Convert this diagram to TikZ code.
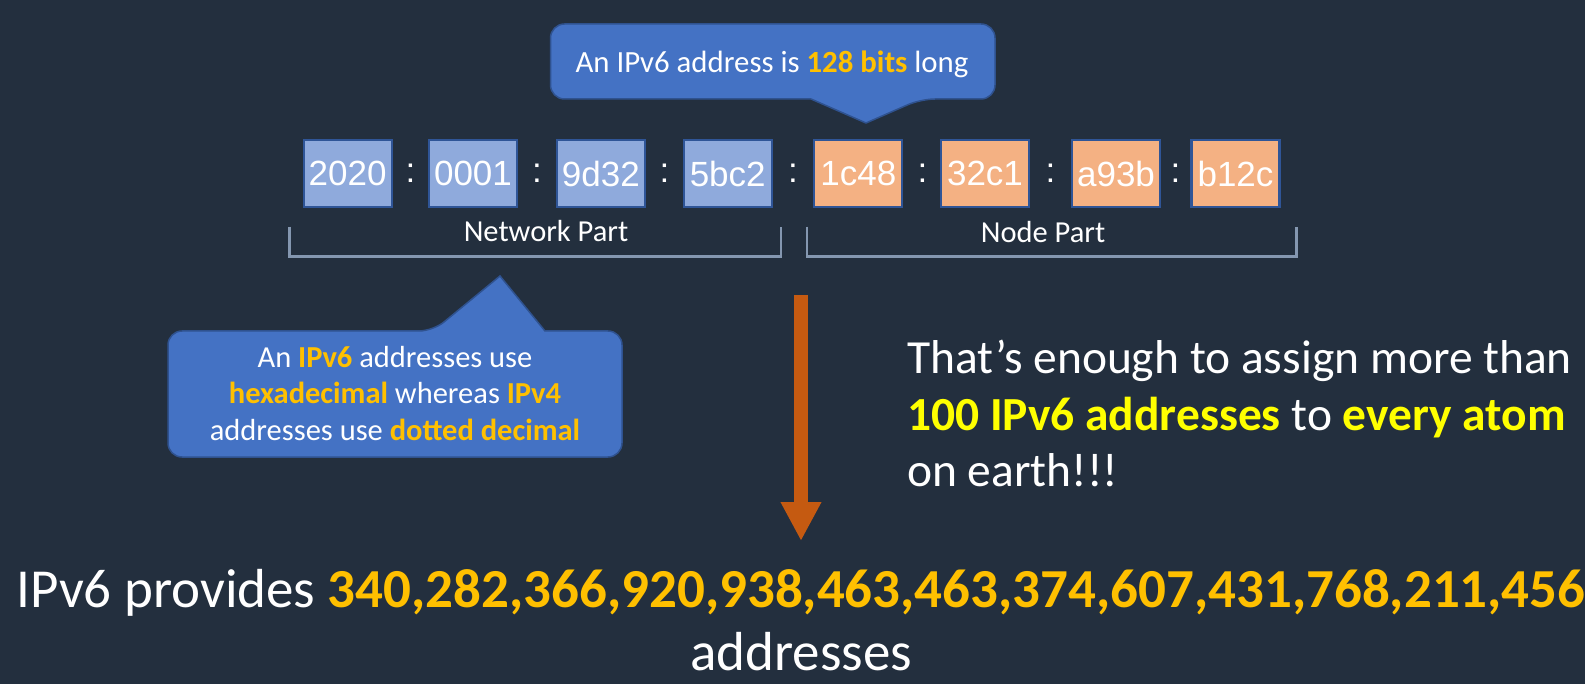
\documentclass[tikz,border=0pt]{standalone}
\usepackage{fontspec}
\setmainfont{Carlito}
\newfontfamily\arialfont{Liberation Sans}
\usetikzlibrary{arrows.meta}

\definecolor{slidebg}{HTML}{232F3E}
\definecolor{tipblue}{HTML}{4472C4}
\definecolor{tipedge}{HTML}{2F528F}
\definecolor{netfill}{HTML}{8FAADC}
\definecolor{hostfill}{HTML}{F4B183}
\definecolor{boxedge}{HTML}{2F5597}
\definecolor{bracketgray}{HTML}{8497B0}
\definecolor{arrowbrown}{HTML}{C55A11}
\definecolor{gold}{HTML}{FFC000}
\definecolor{brightyellow}{HTML}{FFFF00}

\begin{document}
\begin{tikzpicture}[x=1pt, y=-1pt, text=white,
    group node/.style={rectangle,draw=boxedge,line width=2.2pt,minimum width=88pt,minimum height=67pt,inner sep=0pt,font=\arialfont\fontsize{35}{35}\selectfont},
    net node/.style={group node,fill=netfill},
    host node/.style={group node,fill=hostfill},
    colon node/.style={inner sep=0pt,font=\arialfont\fontsize{35}{35}\selectfont},
    part label/.style={inner sep=0pt,font=\fontsize{30.5}{30.5}\selectfont},
    bracket/.style={draw=bracketgray,line width=2.6pt},
    callout/.style={fill=tipblue,draw=tipedge,line width=1.5pt},
    tip text/.style={inner sep=0pt,font=\fontsize{30.8}{30.8}\selectfont},
    big arrow/.style={draw=arrowbrown,line width=13.4pt,-{Triangle[width=38pt,length=39pt]}}]

  \fill[slidebg] (0,0) rectangle (1585,684);
  \useasboundingbox (0,0) rectangle (1585,684);

  % top callout
  \draw[callout,rounded corners=14pt] (811,99) -- (550.5,99) -- (550.5,24) -- (995,24) -- (995,99) -- (921,99) [sharp corners] -- (866,123) -- cycle;
  \node[tip text,anchor=base] (bits) at (772,72.7) {An IPv6 address is \textcolor{gold}{\bfseries 128 bits} long};

  % address groups
  \node[net node] (g1) at (347.6,173.5) {2020};
  \node[net node] (g2) at (473,173.5) {0001};
  \node[net node] (g3) at (600.8,173.5) {9d32};
  \node[net node] (g4) at (727.7,173.5) {5bc2};
  \node[host node] (g5) at (858.3,173.5) {1c48};
  \node[host node] (g6) at (985,173.5) {32c1};
  \node[host node] (g7) at (1116,173.5) {a93b};
  \node[host node] (g8) at (1235.5,173.5) {b12c};

  \node[colon node] (c1) at (410.5,173.5) {:};
  \node[colon node] (c2) at (537,173.5) {:};
  \node[colon node] (c3) at (664.5,173.5) {:};
  \node[colon node] (c4) at (793,173.5) {:};
  \node[colon node] (c5) at (922.5,173.5) {:};
  \node[colon node] (c6) at (1050.5,173.5) {:};
  \node[colon node] (c7) at (1175.5,173.5) {:};

  % brackets
  \coordinate (n1) at (289.7,226.7);
  \coordinate (n2) at (289.7,256.7);
  \coordinate (n3) at (781,256.7);
  \coordinate (n4) at (781,226.7);
  \draw[bracket] (n1) -- (n2) -- (n3) -- (n4);
  \coordinate (h1) at (807,226.7);
  \coordinate (h2) at (807,256.7);
  \coordinate (h3) at (1296.7,256.7);
  \coordinate (h4) at (1296.7,226.7);
  \draw[bracket] (h1) -- (h2) -- (h3) -- (h4);
  \node[part label,anchor=base] (netlabel) at (546,241.7) {Network Part};
  \node[part label,anchor=base] (hostlabel) at (1043,242.5) {Node Part};

  % lower callout
  \draw[callout,rounded corners=14pt] (545,331) -- (622,331) -- (622,457) -- (168,457) -- (168,331) -- (433,331) [sharp corners] -- (500,276) -- cycle;
  \node[tip text,anchor=base,align=center,font=\fontsize{30.5}{36.7}\selectfont] (hex) at (395,440.7)
    {An \textcolor{gold}{\bfseries IPv6} addresses use\\
     \textcolor{gold}{\bfseries hexadecimal} whereas \textcolor{gold}{\bfseries IPv4}\\
     addresses use \textcolor{gold}{\bfseries dotted decimal}};

  % arrow
  \coordinate (arrtop) at (801,295);
  \coordinate (arrtip) at (801,541);
  \draw[big arrow] (arrtop) -- (arrtip);

  % right text
  \node[inner sep=0pt,anchor=base west,align=left,font=\fontsize{47.5}{56.7}\selectfont] (atoms) at (907,486.7)
    {That’s enough to assign more than\\
     \textcolor{brightyellow}{\bfseries 100 IPv6 addresses} to \textcolor{brightyellow}{\bfseries every atom}\\
     on earth!!!};

  % bottom text
  \node[inner sep=0pt,anchor=base,align=center,font=\fontsize{55}{63}\selectfont] (total) at (801,670)
    {IPv6 provides \textcolor{gold}{\bfseries 340,282,366,920,938,463,463,374,607,431,768,211,456}\\
     addresses};
\end{tikzpicture}
\end{document}
